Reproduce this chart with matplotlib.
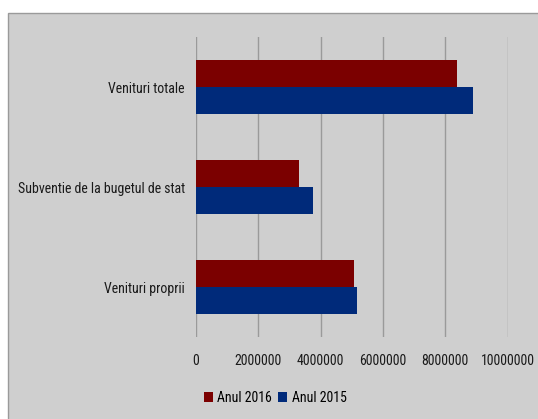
import matplotlib.pyplot as plt
import matplotlib.patches as mpatches
from matplotlib import font_manager
import numpy as np

categorii = ['Venituri totale', 'Subventie de la bugetul de stat', 'Venituri proprii']
anul_2016 = [8380000, 3320000, 5070000]
anul_2015 = [8890000, 3750000, 5150000]
xticks = [0, 2000000, 4000000, 6000000, 8000000, 10000000]

names = set(f.name for f in font_manager.fontManager.ttflist)
fam = [n for n in ['Liberation Sans Narrow', 'Roboto Condensed', 'DejaVu Sans Condensed',
                   'Open Sans Condensed', 'Liberation Sans'] if n in names]
plt.rcParams['font.family'] = fam + ['DejaVu Sans']
narrow = fam and fam[0] != 'Liberation Sans'
fs = 10 if narrow else 9.2

fig = plt.figure(figsize=(5.38, 4.19), dpi=100)
fig.patch.set_facecolor('white')
# gray chart area
bg = mpatches.Rectangle((8/538, -0.01), 1.0, 1 - 13/419 + 0.01, transform=fig.transFigure,
                        facecolor='#cfcfcf', edgecolor='#9a9a9a', linewidth=1.0, zorder=-10)
fig.patches.append(bg)

ax = fig.add_axes([196/538, 1 - 337/419, (507.7 - 196)/538, 300/419])
ax.set_facecolor('none')

y = np.arange(len(categorii))
h = 0.268
ax.barh(y - h/2, anul_2016, height=h, color='#7b0000', label='Anul 2016', zorder=3)
ax.barh(y + h/2, anul_2015, height=h, color='#002a7a', label='Anul 2015', zorder=3)

ax.set_ylim(2.5, -0.5)
ax.set_xlim(0, 10000000)
ax.set_xticks(xticks)
ax.set_xticklabels([str(t) for t in xticks], fontsize=fs, color='#1a1a1a')
ax.set_yticks(y)
ax.set_yticklabels(categorii, fontsize=fs, color='#1a1a1a')
ax.tick_params(axis='both', length=0)
ax.tick_params(axis='x', pad=12)
ax.tick_params(axis='y', pad=8)
ax.grid(axis='x', color='#9a9a9a', linewidth=1.0, zorder=1)
for s in ax.spines.values():
    s.set_visible(False)

fig.legend(loc='center', bbox_to_anchor=(275/538, 1 - 398/419), ncol=2, frameon=False,
           fontsize=fs, handlelength=0.7, handleheight=0.7, handletextpad=0.3,
           columnspacing=0.4)

fig.savefig('out.png', dpi=100, facecolor='white')
